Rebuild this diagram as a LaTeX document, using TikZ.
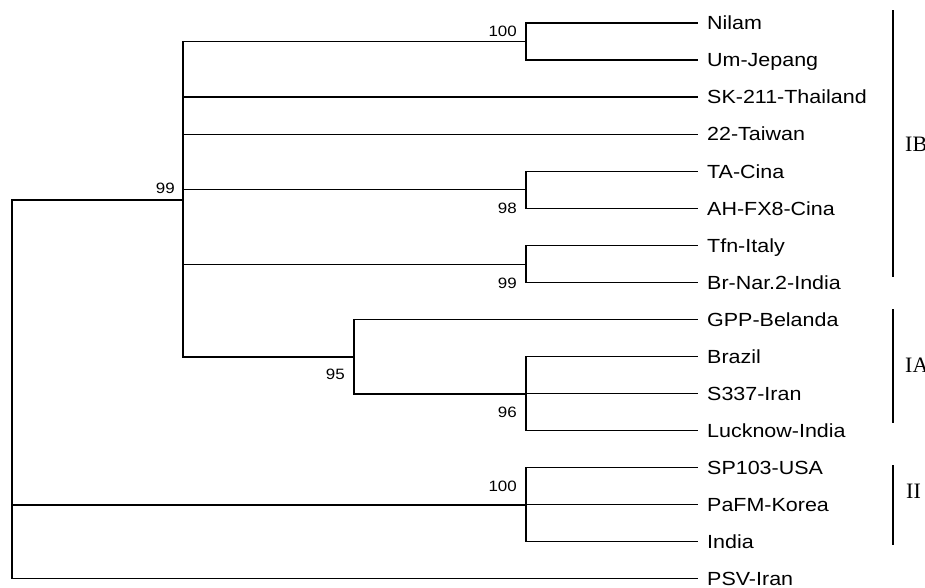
\documentclass[tikz,border=0pt]{standalone}
\usepackage{fontspec}
\newfontfamily\leaffont[FakeStretch=1.13]{Liberation Sans}
\newfontfamily\romfont{Liberation Serif}
\begin{document}
\begin{tikzpicture}[x=1pt,y=-1pt,
  branch/.style={line width=1.3pt, black},
  bar/.style={line width=2pt, black},
  leaf/.style={anchor=west, inner xsep=9pt, inner ysep=0pt, text height=13.6pt, text depth=0pt, font=\leaffont\fontsize{19}{19}\selectfont},
  boot/.style={anchor=east, inner sep=0pt, text height=10.7pt, text depth=0pt, font=\leaffont\fontsize{15}{15}\selectfont},
  clade/.style={anchor=west, inner sep=0pt, font=\romfont\fontsize{22}{22}\selectfont}]
\useasboundingbox (0,0) rectangle (925,587);
\fill[white] (0,0) rectangle (925,587);
% leaves
\foreach \n/\t [count=\k from 0] in {l1/Nilam, l2/Um-Jepang, l3/SK-211-Thailand, l4/22-Taiwan, l5/TA-Cina, l6/AH-FX8-Cina, l7/Tfn-Italy, l8/Br-Nar.2-India, l9/GPP-Belanda, l10/Brazil, l11/S337-Iran, l12/Lucknow-India, l13/SP103-USA, l14/PaFM-Korea, l15/India, l16/PSV-Iran}
  \node[leaf] (\n) at (698, 23+37.05*\k) {\t};
% internal nodes
\coordinate (r) at (12,390);
\coordinate (ib) at (183,200);
\coordinate (a) at (526,41.5);
\coordinate (c) at (526,189.5);
\coordinate (d) at (526,264.5);
\coordinate (e) at (354,357);
\coordinate (f) at (526,394);
\coordinate (g) at (526,505);
% branches
\draw[branch] (r) |- (ib);
\draw[branch] (r) |- (g);
\draw[branch] (r) |- (l16.west);
\draw[branch] (ib) |- (a);
\draw[branch] (ib) |- (l3.west);
\draw[branch] (ib) |- (l4.west);
\draw[branch] (ib) |- (c);
\draw[branch] (ib) |- (d);
\draw[branch] (ib) |- (e);
\draw[branch] (a) |- (l1.west);
\draw[branch] (a) |- (l2.west);
\draw[branch] (c) |- (l5.west);
\draw[branch] (c) |- (l6.west);
\draw[branch] (d) |- (l7.west);
\draw[branch] (d) |- (l8.west);
\draw[branch] (e) |- (l9.west);
\draw[branch] (e) |- (f);
\draw[branch] (f) |- (l10.west);
\draw[branch] (f) |- (l11.west);
\draw[branch] (f) |- (l12.west);
\draw[branch] (g) |- (l13.west);
\draw[branch] (g) |- (l14.west);
\draw[branch] (g) |- (l15.west);
% bootstrap values
\node[boot] (b1) at (517,31) {100};
\node[boot] (b2) at (175,188) {99};
\node[boot] (b3) at (517,208) {98};
\node[boot] (b4) at (517,283) {99};
\node[boot] (b5) at (345,374) {95};
\node[boot] (b6) at (517,412) {96};
\node[boot] (b7) at (517,486) {100};
% clade bars
\coordinate (ibt) at (893,10);
\coordinate (ibb) at (893,277);
\coordinate (iat) at (893,309);
\coordinate (iab) at (893,423);
\coordinate (iit) at (893,465);
\coordinate (iib) at (893,545);
\draw[bar] (ibt) -- (ibb);
\draw[bar] (iat) -- (iab);
\draw[bar] (iit) -- (iib);
\node[clade] (cib) at (905,144) {IB};
\node[clade] (cia) at (905,365) {IA};
\node[clade] (cii) at (906,491) {II};
\end{tikzpicture}
\end{document}
